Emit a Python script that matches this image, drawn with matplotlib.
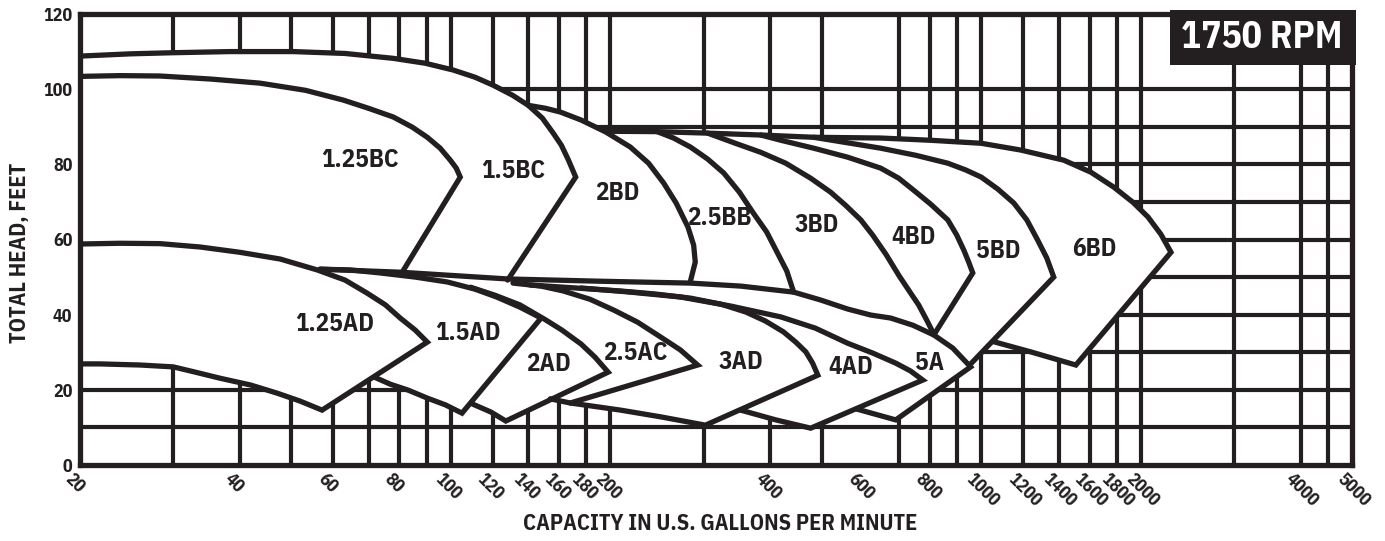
import matplotlib
matplotlib.use('Agg')
import matplotlib.pyplot as plt
from matplotlib.patches import Rectangle
from matplotlib.transforms import ScaledTranslation
from matplotlib.ticker import NullLocator

plt.rcParams['font.family'] = ['IBM Plex Sans Condensed', 'DejaVu Sans']
plt.rcParams['font.weight'] = 'bold'

ink = '#231f20'

# axis ticks and grid
x_ticks = [20, 40, 60, 80, 100, 120, 140, 160, 180, 200, 400, 600, 800, 1000,
           1200, 1400, 1600, 1800, 2000, 4000, 5000]
y_ticks = [0, 20, 40, 60, 80, 100, 120]
grid_q = [30, 40, 50, 60, 70, 80, 90, 100, 120, 140, 160, 180, 200, 300, 400, 500,
          700, 800, 900, 1000, 1200, 1400, 1600, 1800, 2000, 3000, 4000, 4500]
grid_h = [10, 20, 30, 40, 50, 60, 70, 80, 90, 100]

# each pump: outline (q, h) as drawn, plus closing points (cq, ch) used for the white fill only

# ---- lower family ----
ad125_q = [20, 23.8, 28.3, 33.7, 40, 47.7, 56.0, 63.2, 69.6, 75.3, 80.3, 85.7, 90.3,
           57.2, 52.0, 47.1, 41.9, 36.7, 33.0, 30.0, 26.0, 21.8, 20]
ad125_h = [58.8, 59.0, 58.9, 58.0, 56.6, 54.8, 51.9, 49.2, 45.7, 42.6, 39.1, 35.9, 32.7,
           14.6, 17.0, 19.1, 21.3, 23.1, 24.7, 26.1, 26.6, 26.9, 26.9]
ad125_cq, ad125_ch = [], []

ad15_q = [56.7, 64.6, 73.6, 85.7, 98.5, 111, 122, 135, 148, 105, 97.7, 90.3, 83.2, 76.9, 71.7]
ad15_h = [52.1, 51.9, 51.1, 50.0, 48.7, 46.8, 44.7, 42.0, 39.1, 13.8, 16.0, 17.8, 19.9, 21.5, 23.4]
ad15_cq = [90.3, 85.7, 80.3, 75.3, 69.6, 63.2]
ad15_ch = [32.7, 35.9, 39.1, 42.6, 45.7, 49.2]

ad2_q = [109, 121, 135, 151, 162, 176, 187, 198, 127, 119, 110]
ad2_h = [47.3, 45.2, 42.6, 38.6, 35.9, 32.2, 28.7, 24.7, 11.7, 14.1, 16.2]
ad2_cq = [148]
ad2_ch = [39.1]

ac25_q = [131, 148, 163, 183, 203, 225, 249, 271, 292, 168, 154]
ac25_h = [48.4, 47.6, 46.3, 44.1, 41.2, 38.0, 34.0, 30.6, 26.6, 16.5, 17.6]
ac25_cq = [198, 187, 176, 162, 151, 135]
ac25_ch = [24.7, 28.7, 32.2, 35.9, 38.6, 42.6]

ad3_q = [141, 172, 209, 243, 283, 323, 360, 392, 424, 447, 467, 481, 492,
         302, 249, 209, 168]
ad3_h = [47.9, 47.1, 46.3, 45.5, 44.4, 42.8, 40.7, 38.3, 35.4, 32.7, 30.1, 27.1, 23.9,
         10.6, 12.8, 14.6, 16.5]
ad3_cq = [292, 271, 249, 225, 203, 183, 163]
ad3_ch = [26.6, 30.6, 34.0, 38.0, 41.2, 44.1, 46.3]

ad4_q = [176, 218, 271, 337, 419, 487, 560, 624, 690, 736, 776, 477, 410, 352]
ad4_h = [47.1, 46.0, 44.7, 42.3, 39.4, 36.4, 32.4, 29.8, 27.1, 25.0, 22.6, 9.8, 12.0, 14.6]
ad4_cq = [492, 481, 467, 447, 424, 392, 360, 323, 283, 243, 209]
ad4_ch = [23.9, 27.1, 30.1, 32.7, 35.4, 38.3, 40.7, 42.8, 44.4, 45.5, 46.3]

a5_q = [56.7, 80.3, 128, 191, 283, 352, 443, 498, 560, 619, 675, 743, 814, 884, 955, 690, 582]
a5_h = [52.1, 51.3, 49.5, 48.9, 48.4, 47.6, 46.0, 43.9, 41.5, 39.9, 39.1, 37.2, 34.6, 31.1,
        26.1, 12.0, 14.9]
a5_cq = [776, 736, 690, 624, 560, 487, 419, 337, 271, 218, 176, 148, 98.5]
a5_ch = [22.6, 25.0, 27.1, 29.8, 32.4, 36.4, 39.4, 42.3, 44.7, 46.0, 47.1, 39.1, 48.7]

# ---- upper family ----
bc125_q = [20, 23.8, 28.3, 35.2, 43.7, 53.2, 62.7, 70, 77.9, 84.6, 90.3, 95.5, 99.8, 102.4,
           104.2, 81]
bc125_h = [103.4, 103.6, 103.5, 102.7, 101.6, 99.7, 97.1, 94.9, 92.6, 89.9, 87.2, 84.3, 81.1,
           79.0, 76.6, 51.3]
bc125_cq = [56.7, 47.7, 40, 33.7, 28.3, 23.8, 20]
bc125_ch = [52.1, 54.8, 56.6, 58.0, 58.9, 59.0, 58.8]

bc15_q = [20, 24.9, 30, 38.4, 50.5, 63.2, 77.9, 89.5, 101, 111, 120, 130.7, 140, 148.8, 156,
          161.6, 166.7, 172, 128]
bc15_h = [108.8, 109.4, 109.7, 110.0, 110.0, 109.5, 108.2, 106.9, 105.1, 103.2, 101.1, 98.4,
          95.7, 92.3, 88.3, 85.1, 81.1, 76.6, 49.2]
bc15_cq = [81, 104.2, 102.4, 99.8, 95.5, 90.3, 84.6, 77.9, 70, 62.7, 53.2, 43.7, 35.2, 28.3,
           23.8, 20]
bc15_ch = [51.3, 76.6, 79.0, 81.1, 84.3, 87.2, 89.9, 92.6, 94.9, 97.1, 99.7, 101.6, 102.7,
           103.5, 103.6, 103.4]

bd2_q = [140, 151, 161, 176, 196, 218, 236, 252, 266, 280, 287, 289, 283]
bd2_h = [95.7, 94.9, 93.9, 91.8, 88.6, 84.6, 80.3, 75.0, 69.7, 63.3, 58.5, 54.0, 48.9]
bd2_cq = [191, 128, 172, 166.7, 161.6, 156, 148.8]
bd2_ch = [48.9, 49.2, 76.6, 81.1, 85.1, 88.3, 92.3]

bb25_q = [245, 263, 283, 305, 327, 350, 372, 394, 413, 430, 443]
bb25_h = [88.7, 87.0, 84.6, 81.4, 77.7, 72.6, 67.0, 62.0, 56.4, 51.6, 46.0]
bb25_cq = [283, 289, 287, 280, 266, 252, 236, 218, 196]
bb25_ch = [48.4, 54.0, 58.5, 63.3, 69.7, 75.0, 80.3, 84.6, 88.6]

bd3_q = [305, 344, 384, 428, 477, 520, 555, 593, 624, 661, 699, 730, 762, 789, 814]
bd3_h = [88.3, 85.6, 83.2, 80.3, 76.3, 72.6, 69.1, 65.2, 61.2, 56.1, 50.5, 46.5, 42.6, 38.6, 34.8]
bd3_cq = [743, 675, 619, 560, 498, 443, 430, 413, 394, 372, 350, 327, 305, 283, 263, 245]
bd3_ch = [37.2, 39.1, 39.9, 41.5, 43.9, 46.0, 51.6, 56.4, 62.0, 67.0, 72.6, 77.7, 81.4, 84.6,
          87.0, 88.7]

bd4_q = [384, 419, 483, 560, 646, 699, 746, 803, 865, 899, 927, 947, 964, 814]
bd4_h = [87.8, 86.4, 84.3, 81.9, 79.0, 76.3, 73.1, 69.4, 65.2, 61.2, 57.2, 54.0, 51.1, 34.6]
bd4_cq = [789, 762, 730, 699, 661, 624, 593, 555, 520, 477, 428, 384, 344]
bd4_ch = [38.6, 42.6, 46.5, 50.5, 56.1, 61.2, 65.2, 69.1, 72.6, 76.3, 80.3, 83.2, 85.6]

bd5_q = [483, 567, 646, 753, 865, 935, 1000, 1075, 1152, 1219, 1278, 1329, 1370, 951]
bd5_h = [87.2, 85.6, 84.3, 82.4, 80.3, 78.5, 76.6, 73.4, 69.7, 65.2, 59.8, 55.1, 50.0, 26.6]
bd5_cq = [884, 814, 964, 947, 927, 899, 865, 803, 746, 699, 646, 560, 483, 419, 384]
bd5_ch = [31.1, 34.6, 51.1, 54.0, 57.2, 61.2, 65.2, 69.4, 73.1, 76.3, 79.0, 81.9, 84.3, 86.4,
          87.8]

bd6_q = [197, 245, 305, 384, 483, 646, 803, 1000, 1187, 1431, 1610, 1779, 1932, 2062, 2181,
         2279, 1508, 1240, 1056]
bd6_h = [88.8, 88.7, 88.3, 87.8, 87.2, 87.0, 86.4, 85.6, 83.8, 81.1, 77.9, 73.9, 69.9, 66.0,
         61.4, 56.6, 26.6, 30.1, 32.8]
bd6_cq = [1370, 1329, 1278, 1219, 1152, 1075, 1000, 935, 865, 753, 646, 567, 483]
bd6_ch = [50.0, 55.1, 59.8, 65.2, 69.7, 73.4, 76.6, 78.5, 80.3, 82.4, 84.3, 85.6, 87.2]

label_text = ['1.25BC', '1.5BC', '2BD', '2.5BB', '3BD', '4BD', '5BD', '6BD',
              '1.25AD', '1.5AD', '2AD', '2.5AC', '3AD', '4AD', '5A']
label_q = [67.5, 131, 206, 321, 489, 746, 1075, 1631, 60.3, 107.5, 153, 223, 352, 567, 800]
label_h = [81.1, 78.2, 72.3, 65.7, 63.8, 60.6, 56.9, 57.4, 37.5, 35.1, 26.9, 29.8, 27.4, 26.1, 27.1]

shapes = [
    (bc15_q, bc15_h, bc15_cq, bc15_ch),
    (bc125_q, bc125_h, bc125_cq, bc125_ch),
    (bd2_q, bd2_h, bd2_cq, bd2_ch),
    (bb25_q, bb25_h, bb25_cq, bb25_ch),
    (bd3_q, bd3_h, bd3_cq, bd3_ch),
    (bd4_q, bd4_h, bd4_cq, bd4_ch),
    (bd5_q, bd5_h, bd5_cq, bd5_ch),
    (bd6_q, bd6_h, bd6_cq, bd6_ch),
    (a5_q, a5_h, a5_cq, a5_ch),
    (ad4_q, ad4_h, ad4_cq, ad4_ch),
    (ad3_q, ad3_h, ad3_cq, ad3_ch),
    (ac25_q, ac25_h, ac25_cq, ac25_ch),
    (ad2_q, ad2_h, ad2_cq, ad2_ch),
    (ad15_q, ad15_h, ad15_cq, ad15_ch),
    (ad125_q, ad125_h, ad125_cq, ad125_ch),
]

fig = plt.figure(figsize=(13.85, 5.41), dpi=100)
ax = fig.add_axes([80 / 1385, 1 - 465 / 541, 1272 / 1385, 451 / 541])
ax.set_xscale('log')
ax.set_xlim(20, 5000)
ax.set_ylim(0, 120)

ax.vlines(grid_q, 0, 120, colors=ink, lw=3.0, zorder=1)
ax.hlines(grid_h, 20, 5000, colors=ink, lw=3.0, zorder=1)

for q, h, cq, ch in shapes:
    ax.fill(q + cq, h + ch, color='white', lw=0, zorder=2)
for q, h, cq, ch in shapes:
    ax.plot(q, h, color=ink, lw=3.8, zorder=3,
            solid_joinstyle='miter', solid_capstyle='round')

for t, q, h in zip(label_text, label_q, label_h):
    ax.text(q, h, t, fontsize=18, fontweight='bold', color=ink,
            ha='center', va='center', zorder=4)

for s in ax.spines.values():
    s.set_linewidth(3.8)
    s.set_color(ink)

ax.xaxis.set_minor_locator(NullLocator())
ax.set_xticks(x_ticks)
ax.set_xticklabels([str(v) for v in x_ticks], rotation=-45, ha='left', va='top',
                   rotation_mode='anchor', fontsize=13, fontweight='bold', color=ink)
ax.set_yticks(y_ticks)
ax.set_yticklabels([str(v) for v in y_ticks], fontsize=13, fontweight='bold', color=ink)
ax.tick_params(axis='both', length=0)
ax.tick_params(axis='x', pad=4)
ax.tick_params(axis='y', pad=5.5)
shift = ScaledTranslation(-0.06, 0, fig.dpi_scale_trans)
for lab in ax.get_xticklabels():
    lab.set_transform(lab.get_transform() + shift)

# rpm badge
ax.add_patch(Rectangle((0.857, 0.887), 0.146, 0.122, transform=ax.transAxes,
                       facecolor=ink, edgecolor='none', clip_on=False, zorder=6))
ax.text(0.929, 0.949, '1750 RPM', transform=ax.transAxes, color='white',
        fontsize=27, fontweight='bold', ha='center', va='center', zorder=7)

fig.text(720 / 1385, 1 - 523 / 541, 'CAPACITY IN U.S. GALLONS PER MINUTE',
         fontsize=16, fontweight='bold', color=ink, ha='center', va='center')
fig.text(20 / 1385, 1 - 253 / 541, 'TOTAL HEAD, FEET', rotation=90,
         fontsize=16, fontweight='bold', color=ink, ha='center', va='center')

fig.savefig('out.png', dpi=100, facecolor='white')
